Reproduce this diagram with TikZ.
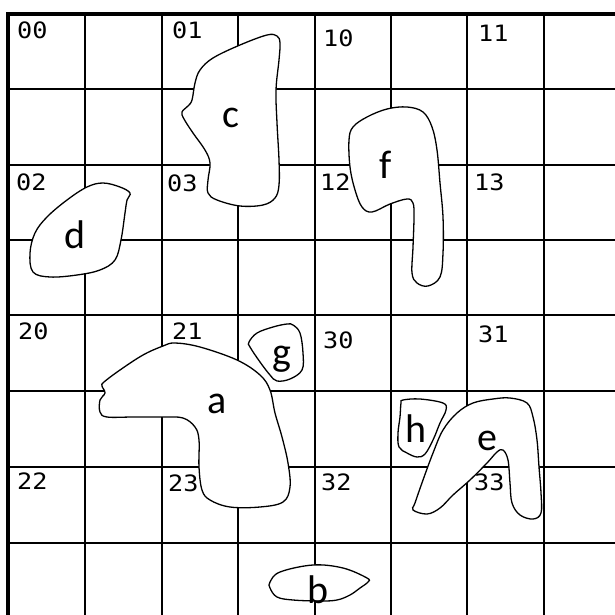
\documentclass[tikz,border=0pt]{standalone}
\usepackage{fontspec}
\newfontfamily\blobfont{Carlito}
\newfontfamily\cellfont[FakeStretch=1.12]{DejaVu Sans Mono}
\begin{document}
\begin{tikzpicture}[x=1pt,y=-1pt,
  gridline/.style={line width=1.7pt,black},
  borderline/.style={line width=3.2pt,black},
  blob/.style={line width=1.3pt,black,fill=white},
  celllbl/.style={anchor=base west,inner sep=0pt,font=\cellfont\fontsize{22.5}{26}\selectfont},
  bloblbl/.style={anchor=base,inner sep=0pt,font=\blobfont\fontsize{40}{48}\selectfont}]
\useasboundingbox (0,0) rectangle (615,615);
\fill[white] (0,0) rectangle (615,615);
% grid
\foreach \x in {85,162,238,315,391,467,544} \draw[gridline] (\x,14) -- (\x,616);
\foreach \y in {89,165,240,315,391,467,543} \draw[gridline] (8,\y) -- (616,\y);
\draw[borderline] (8,616) -- (8,14) -- (616,14);
% blobs
\draw[blob] plot[smooth cycle,tension=0.6] coordinates {(277,36) (267,35) (240,45) (213,58) (200,70) (195,83) (192,100) (188,106) (182,112) (184,119) (193,133) (205,150) (210,163) (208,180) (208,193) (217,200) (240,206) (263,205) (275,198) (279,185) (279,160) (277,123) (276,90) (279,60) (280,43)};
\draw[blob] plot[smooth cycle,tension=0.6] coordinates {(130,193) (120,187) (103,183) (87,187) (67,200) (47,217) (35,233) (30,253) (33,272) (50,277) (77,275) (100,270) (115,260) (121,240) (125,213) (127,200)};
\draw[blob] plot[smooth cycle,tension=0.6] coordinates {(407,107) (423,112) (432,127) (437,150) (440,183) (443,217) (443,253) (440,277) (428,286) (417,283) (412,273) (413,247) (414,217) (413,203) (407,199) (390,204) (372,212) (362,207) (355,190) (350,167) (349,140) (353,127) (367,117) (387,109)};
\draw[blob] plot[smooth cycle,tension=0.6] coordinates {(175,343) (200,347) (237,360) (260,375) (270,390) (275,413) (282,437) (288,463) (290,487) (283,502) (260,507) (230,507) (210,500) (202,490) (199,467) (199,440) (195,427) (183,418) (163,417) (133,417) (107,417) (100,412) (100,400) (105,393) (102,386) (104,382) (120,370) (143,355) (163,346)};
\draw[blob] plot[smooth cycle,tension=0.6] coordinates {(293,325) (300,333) (303,353) (302,370) (290,379) (277,381) (270,375) (260,362) (250,347) (249,342) (257,333) (273,327) (287,324)};
\draw[blob] plot[smooth cycle,tension=0.6] coordinates {(270,582) (280,572) (313,565) (343,568) (367,578) (368,582) (360,588) (350,595) (337,600) (320,601) (293,600) (277,597) (270,588)};
\draw[blob] plot[smooth cycle,tension=0.6] coordinates {(403,400) (420,399) (443,403) (446,410) (440,423) (433,440) (425,454) (417,457) (407,453) (399,447) (398,433) (400,417) (401,403)};
\draw[blob] plot[smooth cycle,tension=0.6] coordinates {(510,398) (527,403) (533,417) (537,440) (539,467) (541,493) (541,513) (533,519) (520,515) (512,503) (510,483) (508,460) (503,450) (497,452) (487,463) (470,480) (453,495) (440,508) (427,514) (413,510) (415,503) (423,480) (433,453) (443,430) (457,413) (473,403) (493,399)};
% blob labels
\node[bloblbl] (la) at (217,413) {a};
\node[bloblbl] (lb) at (318,603) {b};
\node[bloblbl] (lc) at (231,128) {c};
\node[bloblbl] (ld) at (75,248) {d};
\node[bloblbl] (le) at (487,450) {e};
\node[bloblbl] (lf) at (386,178) {f};
\node[bloblbl] (lg) at (282,365) {g};
\node[bloblbl] (lh) at (416,442) {h};
% cell labels
\node[celllbl] (c00) at (17,39) {00};
\node[celllbl] (c01) at (172,39) {01};
\node[celllbl] (c02) at (16,190) {02};
\node[celllbl] (c03) at (167,191) {03};
\node[celllbl] (c10) at (323,47) {10};
\node[celllbl] (c11) at (478,42) {11};
\node[celllbl] (c12) at (320,190) {12};
\node[celllbl] (c13) at (474,190) {13};
\node[celllbl] (c20) at (18,339) {20};
\node[celllbl] (c21) at (172,339) {21};
\node[celllbl] (c22) at (17,489) {22};
\node[celllbl] (c23) at (168,491) {23};
\node[celllbl] (c30) at (323,348) {30};
\node[celllbl] (c31) at (478,342) {31};
\node[celllbl] (c32) at (321,490) {32};
\node[celllbl] (c33) at (474,490) {33};
\end{tikzpicture}
\end{document}
